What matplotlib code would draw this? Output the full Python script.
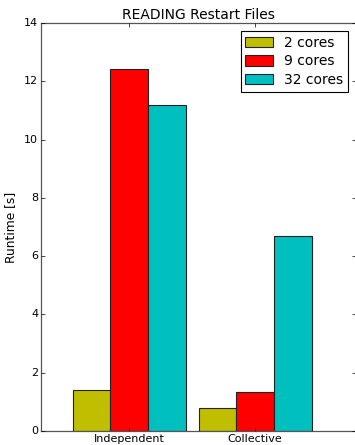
import numpy as np
import matplotlib
matplotlib.use("Agg")
import matplotlib.pyplot as plt

plt.style.use("classic")
plt.rcParams['font.family'] = ['DejaVu Sans']

categories = ["Independent", "Collective"]
series_names = ["2 cores", "9 cores", "32 cores"]
runtime_2 = [1.4, 0.8]
runtime_9 = [12.43, 1.33]
runtime_32 = [11.2, 6.68]
colors = ["y", "r", "c"]

fig = plt.figure(figsize=(3.55, 4.45), dpi=100)
ax = fig.add_axes([41 / 355, 14 / 445, 315 / 355, 408 / 445])

ind = np.arange(len(categories))
width = 0.3
for i, (vals, name, col) in enumerate(zip([runtime_2, runtime_9, runtime_32], series_names, colors)):
    ax.bar(ind + i * width, vals, width, align="edge", color=col,
           edgecolor="#222222", linewidth=0.8, label=name)

ax.set_xlim(-0.25, 2.25)
ax.set_ylim(0, 14)
ax.set_xticks(ind + 1.5 * width)
ax.set_xticklabels(categories)
ax.set_ylabel("Runtime [s]", fontsize=8.8, labelpad=5)
ax.set_title("READING Restart Files", fontsize=10, pad=3)
ax.tick_params(labelsize=8, length=3, direction="in", top=True, right=True, pad=2)
for s in ax.spines.values():
    s.set_color("#555555")
    s.set_linewidth(0.9)

leg = ax.legend(loc="upper right", fontsize=10, handlelength=2.0,
                handleheight=0.75, borderpad=0.35, labelspacing=0.35,
                handletextpad=0.8, borderaxespad=0.55, fancybox=False)
leg.get_frame().set_linewidth(0.8)

fig.savefig("out.png", dpi=100)
